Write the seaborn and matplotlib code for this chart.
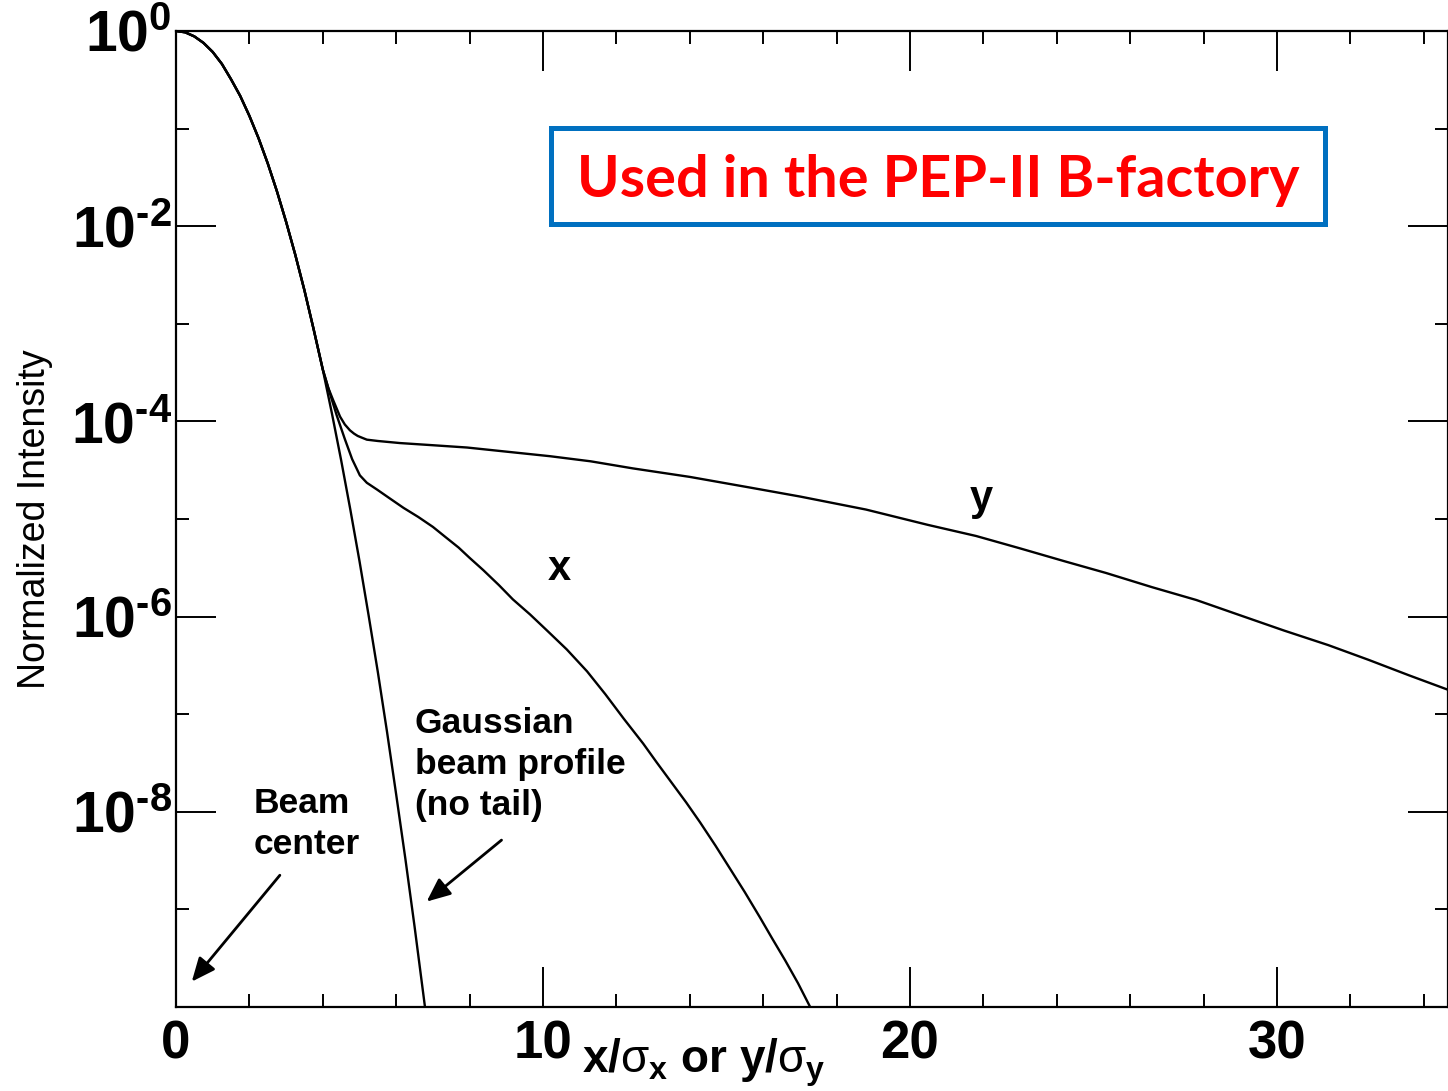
import numpy as np
import pandas as pd
import matplotlib
matplotlib.use("Agg")
import matplotlib.pyplot as plt
import seaborn as sns
from matplotlib.patches import Rectangle
from matplotlib.ticker import FixedLocator, NullFormatter

# ---------------- data ----------------
gauss_r = [0, 0.25, 0.5, 0.75, 1.0, 1.25, 1.5, 1.75, 2.0, 2.25, 2.5, 2.75, 3.0,
           3.25, 3.5, 3.75, 4.0, 4.25, 4.5, 4.75, 5.0, 5.25, 5.5, 5.75, 6.0,
           6.25, 6.5, 6.8]
gauss_I = [1.0, 0.97, 0.88, 0.755, 0.61, 0.46, 0.32, 0.216, 0.135, 0.0796,
           0.044, 0.0228, 0.0111, 5.1e-3, 2.2e-3, 8.8e-4, 3.4e-4, 1.2e-4,
           4.0e-5, 1.25e-5, 3.7e-6, 1.02e-6, 2.7e-7, 6.6e-8, 1.5e-8, 3.3e-9,
           6.7e-10, 9.0e-11]

x_r = [0, 0.25, 0.5, 0.75, 1.0, 1.25, 1.5, 1.75, 2.0, 2.25, 2.5, 2.75, 3.0,
       3.25, 3.5, 3.75, 4.0, 4.2, 4.38, 4.6, 4.8, 4.92, 5.01, 5.2, 5.48, 5.8,
       6.2, 6.6, 7.0, 7.35, 7.7, 8.0, 8.37, 8.8, 9.18, 9.65, 10.11, 10.65,
       11.2, 11.7, 12.2, 12.73, 13.1, 13.5, 13.9, 14.28, 14.7, 15.1, 15.5,
       15.91, 16.25, 16.6, 16.95, 17.28]
x_I = [1.0, 0.97, 0.88, 0.755, 0.61, 0.46, 0.32, 0.216, 0.135, 0.0796, 0.044,
       0.0228, 0.0111, 5.1e-3, 2.2e-3, 8.8e-4, 3.4e-4, 1.9e-4, 1.15e-4,
       6.6e-5, 4.1e-5, 3.3e-5, 2.8e-5, 2.35e-5, 2.0e-5, 1.65e-5, 1.3e-5,
       1.05e-5, 8.3e-6, 6.5e-6, 5.1e-6, 4.0e-6, 3.0e-6, 2.1e-6, 1.5e-6,
       1.05e-6, 7.2e-7, 4.6e-7, 2.75e-7, 1.6e-7, 9.0e-8, 5.0e-8, 3.2e-8,
       2.0e-8, 1.25e-8, 7.8e-9, 4.5e-9, 2.6e-9, 1.5e-9, 8.3e-10, 5.0e-10,
       3.0e-10, 1.75e-10, 1.0e-10]

y_r = [0, 0.25, 0.5, 0.75, 1.0, 1.25, 1.5, 1.75, 2.0, 2.25, 2.5, 2.75, 3.0,
       3.25, 3.5, 3.75, 4.0, 4.15, 4.28, 4.38, 4.47, 4.6, 4.74, 4.85, 4.95,
       5.07, 5.2, 5.5, 6.1, 7.0, 7.93, 9.0, 10.19, 11.3, 12.45, 14.0, 15.64,
       17.0, 18.8, 20.49, 21.8, 23.0, 24.2, 25.34, 26.6, 27.8, 29.0, 30.19,
       31.4, 32.5, 33.6, 34.66]
y_I = [1.0, 0.97, 0.88, 0.755, 0.61, 0.46, 0.32, 0.216, 0.135, 0.0796, 0.044,
       0.0228, 0.0111, 5.1e-3, 2.2e-3, 8.8e-4, 3.4e-4, 2.2e-4, 1.66e-4,
       1.35e-4, 1.12e-4, 9.3e-5, 8.1e-5, 7.5e-5, 7.1e-5, 6.8e-5, 6.5e-5,
       6.3e-5, 6.0e-5, 5.7e-5, 5.4e-5, 4.9e-5, 4.4e-5, 3.9e-5, 3.3e-5,
       2.7e-5, 2.1e-5, 1.7e-5, 1.25e-5, 8.7e-6, 6.7e-6, 5.0e-6, 3.7e-6,
       2.8e-6, 2.0e-6, 1.48e-6, 1.03e-6, 7.2e-7, 5.1e-7, 3.6e-7, 2.5e-7,
       1.78e-7]

x_major = [0, 10, 20, 30]
x_major_labels = ["0", "10", "20", "30"]
x_minor = [2, 4, 6, 8, 12, 14, 16, 18, 22, 24, 26, 28, 32, 34]
y_major = [1e0, 1e-2, 1e-4, 1e-6, 1e-8, 1e-10]
y_major_labels = [r"$\mathbf{10^{0}}$", "$\\mathbf{10^{\u2010 2}}$",
                  "$\\mathbf{10^{\u2010 4}}$", "$\\mathbf{10^{\u2010 6}}$",
                  "$\\mathbf{10^{\u2010 8}}$", ""]
y_minor = [1e-1, 1e-3, 1e-5, 1e-7, 1e-9]

df = pd.concat([
    pd.DataFrame({"r": gauss_r, "I": gauss_I, "curve": "gauss"}),
    pd.DataFrame({"r": x_r, "I": x_I, "curve": "x"}),
    pd.DataFrame({"r": y_r, "I": y_I, "curve": "y"}),
], ignore_index=True)

# ---------------- style ----------------
sns.set_style("ticks")
plt.rcParams["font.family"] = ["Liberation Sans", "DejaVu Sans"]
plt.rcParams["mathtext.fontset"] = "custom"
plt.rcParams["mathtext.rm"] = "Liberation Sans"
plt.rcParams["mathtext.it"] = "Liberation Sans"
plt.rcParams["mathtext.bf"] = "Liberation Sans:bold"
for k in ["text.color", "axes.labelcolor", "xtick.color", "ytick.color",
          "axes.edgecolor"]:
    plt.rcParams[k] = "black"

W, H = 1448, 1091
fig = plt.figure(figsize=(W / 100, H / 100), dpi=100)
ax = fig.add_axes([176 / W, 1 - 1007 / H, (W - 176) / W, (1007 - 31) / H])

sns.lineplot(data=df, x="r", y="I", hue="curve", units="curve",
             palette={"gauss": "black", "x": "black", "y": "black"},
             estimator=None, sort=False, legend=False, linewidth=1.7, ax=ax)

ax.set_yscale("log")
ax.set_xlim(0, 34.66)
ax.set_ylim(1e-10, 1)

ax.set_xticks(x_major, x_major_labels)
ax.xaxis.set_minor_locator(FixedLocator(x_minor))
ax.xaxis.set_minor_formatter(NullFormatter())
ax.set_yticks(y_major, y_major_labels)
ax.yaxis.set_minor_locator(FixedLocator(y_minor))
ax.yaxis.set_minor_formatter(NullFormatter())
for lbl in ax.get_xticklabels():
    lbl.set_fontweight("bold")
    lbl.set_fontsize(38)

ax.tick_params(which="major", direction="in", length=29, width=1.4,
               top=True, right=True, color="black")
ax.tick_params(axis="y", which="major", labelsize=41, pad=3)
ax.tick_params(axis="x", which="major", pad=9)
ax.tick_params(which="minor", direction="in", length=9.5, width=1.4,
               top=True, right=True, color="black")
for s in ax.spines.values():
    s.set_color("black")
    s.set_linewidth(1.6)

ax.set_xlabel("")
ax.set_ylabel("Normalized Intensity", fontsize=27)
ax.yaxis.set_label_coords(-0.097, 0.5)

ax.text(0.3192, -0.030,
        r"$\mathbf{x/}\sigma_{\mathbf{x}}\ \mathbf{or\ y/}\sigma_{\mathbf{y}}$",
        transform=ax.transAxes, ha="left", va="top", fontsize=33)

# title box
ax.add_patch(Rectangle((0.2948, 0.8023), 0.6085, 0.0983, transform=ax.transAxes,
                       fill=False, edgecolor="#0070C0", linewidth=3.6, clip_on=False))
ax.text(0.599, 0.8299, "Used in the PEP-II B-factory", transform=ax.transAxes,
        ha="center", va="baseline", color="#FF0000", fontsize=41.5,
        fontweight="bold", family=["Lato", "DejaVu Sans"])

# curve labels
ax.text(10.44, 10 ** -5.625, "x", ha="center", va="baseline",
        fontsize=30, fontweight="bold")
ax.text(21.95, 10 ** -4.91, "y", ha="center", va="baseline",
        fontsize=30, fontweight="bold")

# annotations
ax.text(2.12, 10 ** -7.75, "Beam\ncenter", ha="left", va="top", fontsize=25.5,
        fontweight="bold", linespacing=1.3)
ax.text(6.51, 10 ** -6.93, "Gaussian\nbeam profile\n(no tail)", ha="left",
        va="top", fontsize=25.5, fontweight="bold", linespacing=1.3)
arrow = dict(arrowstyle="-|>,head_length=0.8,head_width=0.35",
             mutation_scale=18, lw=2, color="black", shrinkA=0, shrinkB=0)
ax.annotate("", xy=(0.43, 10 ** -9.74), xytext=(2.83, 10 ** -8.65),
            arrowprops=arrow)
ax.annotate("", xy=(6.83, 10 ** -8.92), xytext=(8.87, 10 ** -8.29),
            arrowprops=arrow)

fig.savefig("out.png", dpi=100)
